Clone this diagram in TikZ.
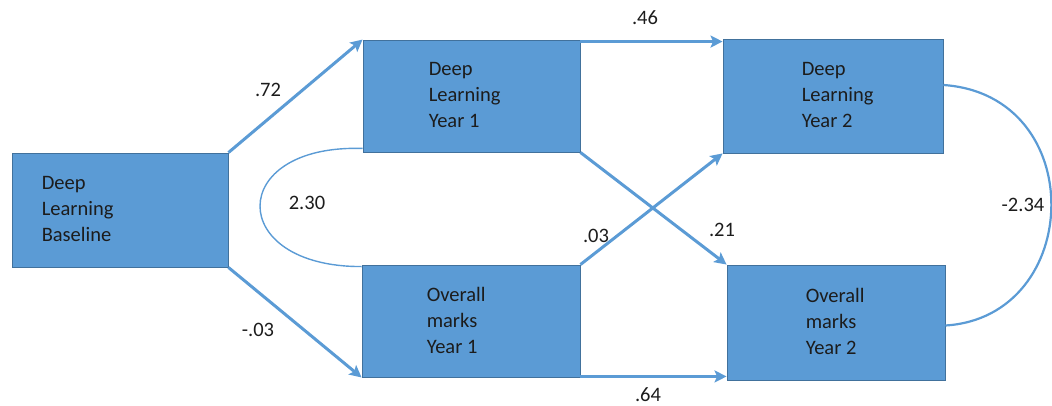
\documentclass[tikz,border=0pt]{standalone}
\usepackage{fontspec}
\setmainfont{Carlito}
\usetikzlibrary{arrows.meta,calc}
\definecolor{boxfill}{HTML}{5B9BD5}
\definecolor{boxline}{HTML}{41719C}
\definecolor{linkblue}{HTML}{5B9BD5}
\definecolor{ink}{HTML}{1C1C1C}
\begin{document}
\begin{tikzpicture}[x=1pt,y=1pt,
  varbox/.style={draw=boxline,line width=0.9pt,fill=boxfill,inner sep=0pt,
    minimum width=#1},
  varbox/.default=218pt,
  boxtext/.style={anchor=west,align=left,inner sep=0pt,text=ink,
    font=\fontsize{20.5}{26}\selectfont},
  coef/.style={inner sep=0pt,text=ink,font=\fontsize{20.5}{26}\selectfont},
  path/.style={draw=linkblue,line width=3pt,
    -{Stealth[length=12pt,width=12pt,inset=2.5pt]}},
  cov/.style={draw=linkblue,line width=1.4pt}]
\useasboundingbox (0,0) rectangle (1052,405);

% variables
\node[varbox=216pt,minimum height=114pt] (base) at (120,195) {};
\node[varbox=217pt,minimum height=112pt] (d1) at (471.5,309) {};
\node[varbox=218pt,minimum height=112pt] (o1) at (471,84) {};
\node[varbox=220pt,minimum height=114pt] (d2) at (833,309) {};
\node[varbox=218pt,minimum height=115pt] (o2) at (836,82.5) {};

\node[boxtext] (baset) at ($(base.west)+(30,1)$) {Deep\\Learning\\Baseline};
\node[boxtext] (d1t) at ($(d1.west)+(66,1)$) {Deep\\Learning\\Year 1};
\node[boxtext] (o1t) at ($(o1.west)+(65,1)$) {Overall\\marks\\Year 1};
\node[boxtext] (d2t) at ($(d2.west)+(79,1)$) {Deep\\Learning\\Year 2};
\node[boxtext] (o2t) at ($(o2.west)+(79,1)$) {Overall\\marks\\Year 2};

% covariances
\draw[cov] ($(d1.south west)+(0,4)$) .. controls (226,261) and (226,138) .. ($(o1.north west)+(0,-2)$);
\draw[cov,line width=2.2pt] ($(d2.east)+(0,11)$) .. controls (1090,310) and (1084,88) .. ($(o2.east)+(0,-3)$);

% anchor points for the horizontal paths
\coordinate (d1r) at ($(d1.north east)+(0,-2)$);
\coordinate (o1r) at ($(o1.south east)+(0,1)$);

% regression paths
\draw[path] (base.north east) -- (d1.north west);
\draw[path] (base.south east) -- (o1.south west);
\draw[path] (d1r) -- (d1r -| d2.west);
\draw[path] (o1r) -- (o1r -| o2.west);
\draw[path] (d1.south east) -- (o2.north west);
\draw[path] (o1.north east) -- (d2.south west);

% coefficients
\node[coef] (c72) at (268,315) {.72};
\node[coef] (cm03) at (258,75) {-.03};
\node[coef] (c46) at (645,387) {.46};
\node[coef] (c64) at (648,10) {.64};
\node[coef] (c21) at (722,175) {.21};
\node[coef] (c03) at (596,169) {.03};
\node[coef] (c230) at (307,202) {2.30};
\node[coef] (cm234) at (1023,200) {-2.34};
\end{tikzpicture}
\end{document}
